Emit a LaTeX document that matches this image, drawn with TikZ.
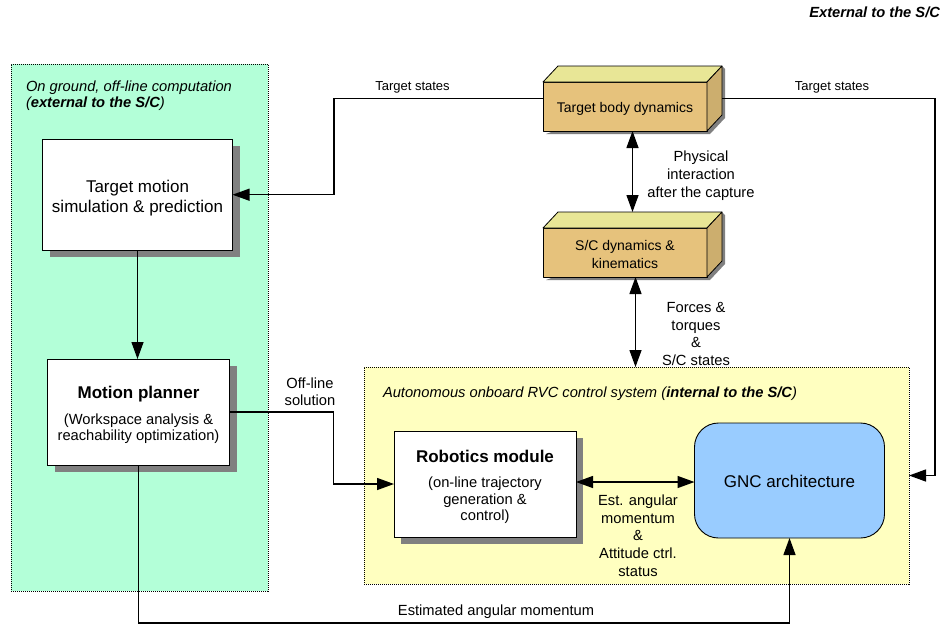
\documentclass[tikz,border=0pt]{standalone}
\usepackage{fontspec}
\setmainfont{Liberation Sans}
\usetikzlibrary{arrows.meta,calc,shadows,backgrounds}

\definecolor{groundfill}{RGB}{179,255,216}
\definecolor{boardfill}{RGB}{255,255,192}
\definecolor{gncfill}{RGB}{153,204,255}
\definecolor{cubefront}{RGB}{230,194,124}
\definecolor{cubetop}{RGB}{232,230,150}
\definecolor{cubeside}{RGB}{204,174,110}
\definecolor{shadowgray}{RGB}{128,128,128}

\newcommand\szTitle{\fontsize{17}{19.5}\selectfont}
\newcommand\szText{\fontsize{14.7}{17.5}\selectfont}
\newcommand\szInBox{\fontsize{14.7}{16.3}\selectfont}
\newcommand\szCube{\fontsize{14}{18}\selectfont}
\newcommand\szState{\fontsize{13}{15}\selectfont}
% extra head room on a first line, pushing a centred block down
\newcommand\headroom[1]{\rule{0pt}{#1}}

% top and right faces of a box drawn in cavalier perspective
\newcommand\cubefaces[1]{%
  \begin{scope}[on background layer]
    \fill[shadowgray] ($(#1.south west)+(3,3)$) -- ($(#1.south east)+(3,3)$)
      -- ($(#1.south east)+(18,-13)$) -- ($(#1.north east)+(18,-13)$)
      -- ($(#1.north east)+(15,-16)$) -- cycle;
  \end{scope}
  \draw[cubeline, fill=cubetop] (#1.north west) -- ++(15,-16)
    -- ($(#1.north east)+(15,-16)$) -- (#1.north east) -- cycle;
  \draw[cubeline, fill=cubeside] (#1.north east) -- ++(15,-16)
    -- ($(#1.south east)+(15,-16)$) -- (#1.south east) -- cycle;
}

\begin{document}
\begin{tikzpicture}[x=1pt,y=-1pt,
  every node/.style={outer sep=0pt},
  region/.style={draw=black, line width=0.7pt, dash pattern=on 1pt off 1pt,
    inner sep=0pt},
  whitebox/.style={draw=black, fill=white, line width=0.9pt, align=center,
    inner sep=0pt, font=\szInBox,
    drop shadow={shadow xshift=7pt, shadow yshift=-7pt, fill=shadowgray, opacity=1}},
  cubeline/.style={draw=black, line width=0.8pt, line join=round},
  cube/.style={cubeline, fill=cubefront, minimum width=164pt, minimum height=49pt,
    inner sep=0pt, align=center, font=\szCube},
  gncbox/.style={draw=black, fill=gncfill, line width=0.9pt, rounded corners=24pt,
    minimum width=190pt, minimum height=115pt, inner sep=0pt, font=\szTitle},
  link/.style={line width=1.3pt, -{Triangle[length=17pt,width=12pt]}},
  link2/.style={line width=1.3pt,
    {Triangle[length=17pt,width=12pt]}-{Triangle[length=17pt,width=12pt]}},
  lbl/.style={font=\szText, align=center, inner sep=0pt, yshift=-2pt}
]
\useasboundingbox (0,0) rectangle (943,625);

% regions
\node[region, fill=groundfill, minimum width=257pt, minimum height=527pt]
  (ground) at (139.5,327.5) {};
\node[region, fill=boardfill, minimum width=545pt, minimum height=217pt]
  (board) at (636.5,475.5) {};

\node[lbl, anchor=east, font=\szText\bfseries\itshape, yshift=0pt] (extlabel)
  at (940,10) {External to the S/C};
\node[lbl, anchor=west, align=left, font=\fontsize{14.7}{15.8}\selectfont\itshape]
  (groundlabel) at (26,93.5)
  {On ground, off-line computation\\(\textbf{external to the S/C})};
\node[lbl, anchor=west, font=\szText\itshape, yshift=-3pt] (boardlabel) at (383,389)
  {Autonomous onboard RVC control system (\textbf{internal to the S/C})};

% ground blocks
\node[whitebox, minimum width=190pt, minimum height=111pt, font=\szTitle]
  (tms) at (137.5,194.7) {\headroom{19.5pt}Target motion\\simulation \& prediction};
\node[whitebox, minimum width=182pt, minimum height=106pt]
  (mp) at (138.5,412)
  {{\szTitle\bfseries\headroom{18pt}Motion planner}\\[9.5pt]
   (Workspace analysis \&\\reachability optimization)};

% onboard blocks
\node[whitebox, minimum width=182pt, minimum height=106pt]
  (rob) at (485,484)
  {{\szTitle\bfseries\headroom{17.5pt}Robotics module}\\[9.5pt]
   (on-line trajectory\\generation \&\\control)};
\node[gncbox] (gnc) at (789.5,480.5) {\headroom{14.5pt}GNC architecture};

% dynamics blocks
\node[cube] (tbd) at (625,106.5) {\headroom{14.5pt}Target body dynamics};
\cubefaces{tbd}
\node[cube] (scd) at (625,252.5) {\headroom{14.5pt}S/C dynamics \&\\kinematics};
\cubefaces{scd}

% connectors
\draw[link] ([yshift=8pt]tbd.west) -- ++(-209,0) |- (tms.east);
\draw[link] ([xshift=15pt,yshift=8pt]tbd.east) -- ++(213,0) |- (board.east);
\draw[link2] ([xshift=7.5pt]tbd.south) -- ([xshift=7.5pt,yshift=16pt]scd.north);
\draw[link2] ([xshift=10.5pt]scd.south) -- ([xshift=10.5pt]scd.south |- board.north);
\draw[link] (tms.south) -- (tms.south |- mp.north);
\draw[link] (mp.east) -- ++(104,0) |- (rob.west);
\draw[link2] ([yshift=2pt]rob.east) -- ([yshift=2pt]rob.east -| gnc.west);
\draw[link] (mp.south) -- ++(0,158) -| (gnc.south);

% connector labels
\node[lbl, font=\szState] (tsleft) at (412.5,85) {Target states};
\node[lbl, font=\szState] (tsright) at (832,85) {Target states};
\node[lbl, font=\fontsize{14.7}{18}\selectfont] (phys) at (701,173.7)
  {Physical\\interaction\\after the capture};
\node[lbl] (forces) at (696,332) {Forces \&\\torques\\\&\\S/C states};
\node[lbl, font=\fontsize{14.7}{16.5}\selectfont] (offline) at (310,389.5)
  {Off-line\\solution};
\node[lbl, font=\fontsize{14.7}{17.75}\selectfont] (estmom) at (638,533.5)
  {Est. angular\\momentum\\\&\\Attitude ctrl.\\status};
\node[lbl, yshift=-1pt] (estbottom) at (496,609) {Estimated angular momentum};
\end{tikzpicture}
\end{document}
